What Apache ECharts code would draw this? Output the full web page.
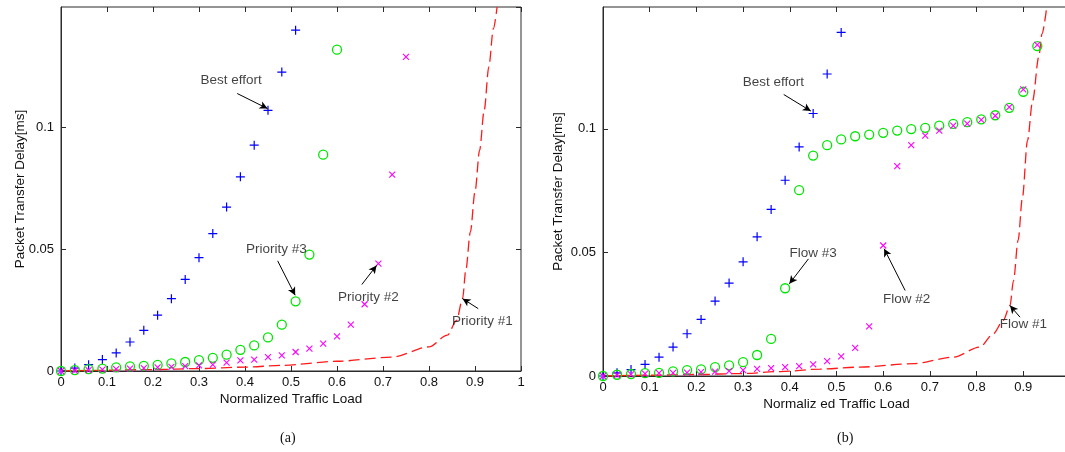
<!DOCTYPE html>
<html>
<head>
<meta charset="utf-8">
<script src="https://cdn.jsdelivr.net/npm/echarts@6/dist/echarts.min.js"></script>
<style>
html,body{margin:0;padding:0;background:#fff;}
#chart{width:1065px;height:452px;}
</style>
</head>
<body>
<div id="chart"></div>
<script>
// ---------- data ----------
const loads = [0,0.03,0.06,0.09,0.12,0.15,0.18,0.21,0.24,0.27,0.30,0.33,0.36,0.39,0.42,0.45,0.48,0.51,0.54,0.57,0.60,0.63,0.66,0.69,0.72,0.75,0.78,0.81,0.84,0.87,0.90,0.93];

// (a)
const bestEffortA = [0,0.0012,0.0026,0.0047,0.0074,0.0119,0.0167,0.0229,0.0297,0.0376,0.0465,0.0564,0.0673,0.0797,0.0927,0.107,0.1227,0.1399];
const priority3A = [0,0.0004,0.0008,0.001,0.0015,0.0019,0.0021,0.0025,0.0031,0.0037,0.0045,0.0054,0.0067,0.0087,0.0105,0.0138,0.019,0.0286,0.0478,0.0888,0.1319];
const priority2A = [0,0.0002,0.0004,0.0006,0.0008,0.001,0.0012,0.0015,0.0017,0.002,0.0023,0.0026,0.0034,0.0044,0.0047,0.0057,0.0064,0.0078,0.0092,0.0112,0.0142,0.019,0.0274,0.0441,0.0806,0.1289];
const priority1LoadA  = [0,0.1,0.2,0.3,0.4,0.48,0.6,0.72,0.8,0.84,0.86,0.873,0.88,0.89,0.9,0.91,0.92,0.93,0.94,0.948];
const priority1DelayA = [0,0.0003,0.0006,0.001,0.0016,0.0023,0.004,0.0057,0.0099,0.0147,0.0208,0.0297,0.0413,0.0571,0.0735,0.0906,0.107,0.1248,0.1405,0.1494];

// (b)
const bestEffortB = [0,0.0013,0.0026,0.0047,0.0076,0.0117,0.0171,0.0229,0.0303,0.0376,0.0462,0.0563,0.0674,0.0792,0.0927,0.1062,0.1222,0.139];
const flow3B = [0,0.0005,0.0008,0.0012,0.0013,0.0019,0.0024,0.0027,0.0036,0.0043,0.0056,0.0085,0.015,0.0355,0.0752,0.0892,0.0934,0.0957,0.097,0.0977,0.0984,0.0993,0.0999,0.1004,0.1013,0.102,0.1027,0.1038,0.1055,0.1085,0.115,0.1335];
const flow2B = [0,0.0004,0.0007,0.001,0.0012,0.0013,0.0014,0.0016,0.0018,0.002,0.0024,0.0029,0.0032,0.0036,0.004,0.0047,0.006,0.0079,0.0114,0.0201,0.0528,0.0849,0.0934,0.0973,0.0993,0.1013,0.1021,0.1036,0.1053,0.1088,0.116,0.134];
const flow1LoadB  = [0,0.1,0.2,0.3,0.38,0.465,0.55,0.665,0.75,0.807,0.836,0.857,0.8715,0.879,0.889,0.898,0.909,0.92,0.933,0.94,0.95];
const flow1DelayB = [0,0.0003,0.0006,0.001,0.0018,0.0028,0.0036,0.005,0.0076,0.0117,0.0171,0.0225,0.0285,0.0386,0.055,0.072,0.0953,0.1114,0.129,0.1384,0.149];

// tick labels
const yTickLabels = {0:'0', 0.05:'0.05', 0.1:'0.1'};

// annotations (data coordinates)
const labelsA    = ['Best effort','Priority #3','Priority #2','Priority #1'];
const labelPosA  = [[0.370,0.1193],[0.468,0.0500],[0.668,0.0301],[0.916,0.0203]];
const arrowFromA = [[0.383,0.1139],[0.471,0.0452],[0.654,0.0355],[0.907,0.0256]];
const arrowToA   = [[0.449,0.1077],[0.509,0.0311],[0.686,0.0433],[0.873,0.0297]];

const labelsB    = ['Best effort','Flow #3','Flow #2','Flow #1'];
const labelPosB  = [[0.365,0.1189],[0.450,0.0497],[0.650,0.0312],[0.900,0.0208]];
const arrowFromB = [[0.387,0.1139],[0.440,0.0474],[0.647,0.0346],[0.893,0.0238]];
const arrowToB   = [[0.445,0.1072],[0.399,0.0373],[0.602,0.0515],[0.8715,0.0285]];

const xTitleA = 'Normalized Traffic Load';
const xTitleB = 'Normaliz ed Traffic Load';
const yTitle = 'Packet Transfer Delay[ms]';
const captions = ['(a)','(b)'];

// ---------- styling ----------
const FONT = 'Liberation Sans, Arial, sans-serif';
const AX = '#2b2b2b';
const TXT = '#111111';
const PLUS = 'path://M5,0 L5,10 M0,5 L10,5';
const CROSS = 'path://M0,0 L10,10 M10,0 L0,10';

function pairs(xs, ys){ return ys.map((y,i)=>[xs[i], y]); }
function yFmt(v){
  const k = Object.keys(yTickLabels).find(key => Math.abs(Number(key) - v) < 1e-9);
  return k === undefined ? '' : yTickLabels[k];
}

function xAxes(grid, title, gap){
  return [
    {gridIndex:grid, type:'value', min:0, max:1, interval:0.1, position:'bottom',
     axisLine:{show:true, onZero:false, lineStyle:{color:AX,width:1}},
     axisTick:{show:true, inside:true, length:5, lineStyle:{color:AX}},
     axisLabel:{margin:5, color:TXT, fontSize:13, fontFamily:FONT},
     splitLine:{show:false},
     name:title, nameLocation:'middle', nameGap:gap, nameMoveOverlap:false,
     nameTextStyle:{color:TXT, fontSize:13.5, fontFamily:FONT}},
    {gridIndex:grid, type:'value', min:0, max:1, interval:0.1, position:'top',
     axisLine:{show:false, onZero:false},
     axisTick:{show:true, inside:true, length:5, lineStyle:{color:AX}},
     axisLabel:{show:false}, splitLine:{show:false}}
  ];
}
function yAxes(grid, ymax, gap){
  return [
    {gridIndex:grid, type:'value', min:0, max:ymax, interval:0.05, position:'left',
     axisLine:{show:true, onZero:false, lineStyle:{color:AX,width:1}},
     axisTick:{show:true, inside:true, length:5, lineStyle:{color:AX}},
     axisLabel:{margin:7, color:TXT, fontSize:13, fontFamily:FONT, showMaxLabel:false, formatter:yFmt},
     splitLine:{show:false},
     name:yTitle, nameLocation:'middle', nameGap:gap, nameRotate:90, nameMoveOverlap:false,
     nameTextStyle:{color:TXT, fontSize:13.5, fontFamily:FONT}},
    {gridIndex:grid, type:'value', min:0, max:ymax, interval:0.05, position:'right',
     axisLine:{show:false, onZero:false},
     axisTick:{show:true, inside:true, length:5, lineStyle:{color:AX}},
     axisLabel:{show:false}, splitLine:{show:false}}
  ];
}

function markerSeries(xi, yi, data, symbol, size, color, bw){
  return {type:'scatter', xAxisIndex:xi, yAxisIndex:yi, data:data, symbol:symbol, symbolSize:size,
    itemStyle:{color:'none', borderColor:color, borderWidth:bw, opacity:1},
    emphasis:{disabled:true}, silent:true, z:3};
}
function lineSeries(xi, yi, data){
  return {type:'line', xAxisIndex:xi, yAxisIndex:yi, data:data, showSymbol:false, symbol:'none',
    smooth:0.3, smoothMonotone:'x', clip:true,
    lineStyle:{color:'#ff1a1a', width:1.3, type:[11,5]},
    emphasis:{disabled:true}, silent:true, z:2};
}
function annotSeries(xi, yi, labels, pos, from, to){
  return {type:'scatter', xAxisIndex:xi, yAxisIndex:yi, symbolSize:1,
    itemStyle:{color:'rgba(0,0,0,0)'}, silent:true, z:5,
    data: labels.map((t,i)=>({name:t, value:pos[i]})),
    label:{show:true, position:'inside', formatter:'{b}', color:TXT, fontSize:13.5, fontFamily:FONT},
    markLine:{silent:true, animation:false, symbol:['none','arrow'], symbolSize:[6,8],
      label:{show:false}, lineStyle:{color:'#000', width:1, type:'solid'},
      emphasis:{disabled:true},
      data: from.map((f,i)=>[{coord:f},{coord:to[i]}])}
  };
}

const chart = echarts.init(document.getElementById('chart'), null, {renderer:'canvas'});
const option = {
  animation:false,
  backgroundColor:'#ffffff',
  grid:[
    {left:61, right:544, top:7, bottom:81, show:true, borderColor:AX, borderWidth:1, backgroundColor:'transparent', containLabel:false, outerBoundsMode:'none'},
    {left:603, right:-5, top:7, bottom:76, show:true, borderColor:AX, borderWidth:1, backgroundColor:'transparent', containLabel:false, outerBoundsMode:'none'}
  ],
  xAxis:[].concat(xAxes(0, xTitleA, 21), xAxes(1, xTitleB, 21)),
  yAxis:[].concat(yAxes(0, 0.1494, 34), yAxes(1, 0.1493, 38)),
  series:[
    lineSeries(0,0, pairs(priority1LoadA, priority1DelayA)),
    markerSeries(0,0, pairs(loads, bestEffortA), PLUS, 9, '#0000ff', 1.2),
    markerSeries(0,0, pairs(loads, priority3A), 'circle', 9, '#00e600', 1.3),
    markerSeries(0,0, pairs(loads, priority2A), CROSS, 6, '#ff00ff', 1.1),
    annotSeries(0,0, labelsA, labelPosA, arrowFromA, arrowToA),

    lineSeries(2,2, pairs(flow1LoadB, flow1DelayB)),
    markerSeries(2,2, pairs(loads, bestEffortB), PLUS, 9, '#0000ff', 1.2),
    markerSeries(2,2, pairs(loads, flow3B), 'circle', 9, '#00e600', 1.3),
    markerSeries(2,2, pairs(loads, flow2B), CROSS, 6, '#ff00ff', 1.1),
    annotSeries(2,2, labelsB, labelPosB, arrowFromB, arrowToB)
  ],
  graphic:[
    {type:'text', left:289 - 9, top:431, style:{text:captions[0], fill:TXT, font:'14px "Liberation Serif", serif'}},
    {type:'text', left:846 - 9, top:431, style:{text:captions[1], fill:TXT, font:'14px "Liberation Serif", serif'}}
  ]
};
chart.setOption(option);
</script>
</body>
</html>
